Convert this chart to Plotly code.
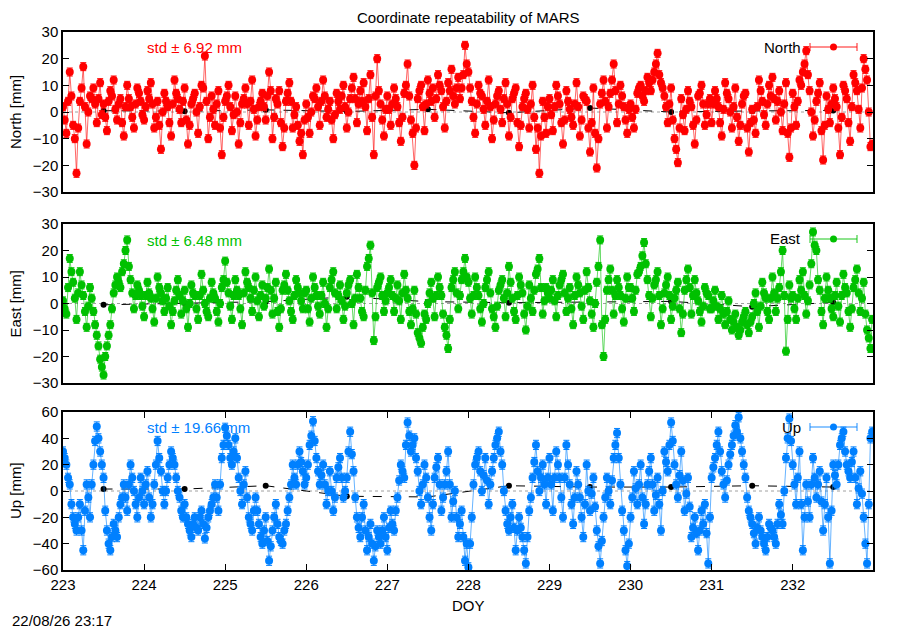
import numpy as np
import plotly.graph_objects as go

# half-hourly residuals [mm], one row per day of year 223 ... 232
north = [
    2, -3, -8, 4, 15, 6, -5, -10, -23, -6, 4, 9, 17, 2, -12, 0, 6, 5, 9, 3, -4, 5, 11, -1, 3, -2, -7, 4, 8, 6, 12, 1, -3, 3, 5, -4, -9, 2, 10, 5, 2, -2, -6, 3, 9, 7, 4, -1,
    -3, 2, 8, 5, 11, 3, -6, -2, 4, -5, -14, 0, 7, 4, 2, -4, -9, 3, 12, 7, 5, 1, -4, 4, 9, -3, -12, -5, 3, 5, 7, 0, -8, 2, 10, 9, 21, 4, -10, -2, 6, 1, -5, 3, 8, -6, -16, -2,
    4, 6, 10, 2, -7, -1, 6, 0, -12, -4, 3, 5, 9, 3, -5, 4, 12, 1, -9, -3, 2, 4, 7, 2, -3, 6, 15, 8, -10, -2, 5, 3, 8, -4, -13, -6, 4, 7, 11, 4, -6, -1, 2, -5, -11, -8, -16, -3,
    3, -2, -8, 0, 6, 5, 9, 2, -5, 4, 12, 6, -2, 1, 4, -3, -10, -1, 7, 4, 1, 6, 10, 2, -6, 0, 5, 9, 13, 5, -4, 3, 8, 4, 11, 2, -7, 5, 14, -2, -16, 6, 20, 8, 3, -3, -9, 1,
    6, 1, -5, 3, 9, 5, 2, -4, -11, -2, 7, 10, 18, 6, -3, -8, -20, -6, 5, 8, 10, 2, -7, 3, 12, 7, 4, 9, -2, 5, 14, 10, 8, 2, -6, 4, 11, 8, 16, 6, 3, 9, 13, 5, 9, 14, 25, 18,
    15, 9, 4, -2, -8, 3, 10, 7, 6, 1, -5, 4, 12, 2, -10, -3, 3, 6, 8, 1, -4, 5, 11, 3, -9, -2, 5, 7, 9, -4, -13, -5, 2, 5, 7, 1, -6, 3, 10, -2, -14, -6, -23, -9, 4, -2, -8, 2,
    5, -1, -7, 2, 10, 6, 3, -4, -12, -3, 8, 4, 1, -2, -5, 3, 11, 2, -9, -3, 6, 5, 4, -6, -15, -4, 9, -8, -21, -10, 3, 7, 12, 4, -6, 2, 7, 12, 18, 8, -4, 3, 10, 6, 2, -3, -8, 1,
    3, -2, -6, 1, 7, 9, 10, 6, 4, 8, 13, 11, 8, 12, 15, 18, 22, 14, 11, 9, 6, 2, -4, 3, 9, -3, -10, -14, -19, -6, 5, -1, -7, 1, 8, 4, 2, -5, -12, -3, 6, 7, 10, 3, -5, -1, 3, 5,
    -4, 3, 8, 5, 2, -4, -9, 1, 11, 7, 5, 0, -6, 2, 9, -2, -11, -5, 3, 6, 7, -6, -15, -4, 1, -3, -8, 2, 12, 8, 4, -1, -5, 3, 10, 6, 13, 5, -3, 4, 8, 0, -7, 3, 11, -8, -17, -6,
    7, 2, -5, 4, 12, 10, 15, 18, 23, 14, 8, 0, -9, -3, 4, 7, 11, -7, -18, -5, 6, 1, -4, 3, 9, 5, 2, -6, -16, -2, 10, 8, 5, -4, -11, 2, 14, 11, 8, 1, -6, 9, 20, 16, 12, 0, -13, -12,
]
east = [
    1, -2, -4, 6, 17, 12, 8, 2, -6, 4, 12, 7, 3, -3, -9, -1, 6, 2, -3, -8, -12, -16, -21, -24, -27, -20, -16, -12, -8, -2, 4, 7, 10, 8, 6, 12, 15, 20, 24, 14, 9, 4, -2, 3, 7, 5, 3, -1,
    -5, 3, 8, 4, 2, -2, -7, 2, 10, 6, 4, 1, -3, 2, 6, -1, -8, -3, 1, 5, 9, 3, -4, 1, 5, -2, -9, 0, 7, 4, 3, -2, -6, 3, 11, 5, 0, -3, -5, 2, 8, 4, 2, -3, -7, 0, 6, 9,
    16, 8, 4, -1, -6, 3, 9, 5, 3, -2, -8, 4, 12, 8, 6, 2, -3, 5, 10, 1, -5, 3, 7, -1, 2, 6, 13, 5, -4, 2, 8, -3, -9, -2, 5, 7, 11, 5, 1, -3, -6, 3, 9, 6, 4, 1, -2, 4,
    5, -2, -7, 2, 10, 6, 3, -1, -4, 3, 8, 0, -9, -2, 6, 9, 12, 4, -2, 3, 7, 1, -6, -1, 4, 7, 9, 0, -8, 2, 11, 6, 2, -3, -5, 5, 14, 17, 22, 4, -14, -5, 6, 8, 10, 3, -3, 1,
    4, 6, 9, 3, -3, 2, 7, 1, -6, 4, 11, 5, 2, -3, -8, -2, 5, -4, -11, -13, -15, -9, -4, -6, 0, 4, 8, 2, -5, 3, 10, 6, 3, -4, -9, -12, -17, -6, 6, 9, 12, 4, -2, 3, 9, 12, 17, 10,
    8, 2, -4, 3, 10, 6, 3, -2, -7, 0, 6, 9, 12, 4, -2, -5, -9, -1, 5, 7, 9, 2, -5, 4, 14, 8, 2, -3, -6, 3, 10, 7, 4, -4, -10, -1, 7, 2, -3, 5, 11, 13, 17, 6, -4, 1, 6, 4,
    2, 5, 9, 1, -5, 3, 7, 9, 11, 4, -3, 2, 6, -2, -8, 3, 10, 7, 4, -1, -6, 5, 12, 6, 1, -4, -9, 0, 8, 14, 24, -8, -20, -6, 5, 9, 13, 5, -4, 3, 9, 6, 3, -2, -7, 2, 10, 6,
    6, 2, -3, 5, 11, 12, 14, 18, 23, 15, 9, 3, -5, 2, 7, 9, 12, 3, -8, -2, 4, 7, 10, 3, -6, -1, 2, 5, 8, -2, -11, -4, 5, 9, 13, 6, -4, 3, 9, 4, 1, -3, -7, -1, 6, 4, 3, -2,
    -2, 1, 5, -1, -6, -2, 3, -4, -8, -3, 1, -6, -10, -7, -4, -9, -12, -10, -7, -5, -3, -8, -11, -7, -5, 0, 4, -3, -9, -1, 8, 4, 2, -3, -6, 2, 10, 4, -3, 2, 6, 12, 20, 3, -18, -6, 7, 2,
    3, -2, -6, 2, 9, 5, 12, 3, -4, 1, 7, 15, 27, 22, 20, 9, 5, -3, -8, 2, 10, 5, 2, -2, -5, 3, 8, -1, -7, 3, 11, 6, 4, -3, -9, -2, 6, 9, 13, 4, -3, 2, 8, -4, -10, -13, -17, -6,
]
up = [
    30, 25, 20, 10, 5, -10, -20, -25, -30, -20, -10, -30, -45, -15, 5, -5, -20, 5, 20, 38, 49, 40, 30, 20, 10, -15, -30, -40, -45, -35, -25, -30, -35, -20, -10, -5, 5, -5, -15, 5, 20, 10, 0, -10, -20, -5, 10, 0,
    -10, 5, 15, -5, -20, -10, 5, 20, 38, 25, 15, 0, -10, 0, 10, 20, 30, 25, 20, 10, 0, -5, -15, -20, -10, -20, -25, -30, -35, -25, -20, -28, -30, -20, -15, -25, -36, -28, -20, -15, -10, -5, 5, -5, -15, 5, 25, 35,
    48, 42, 35, 25, 20, 30, 40, 25, 10, 0, -10, 5, 15, -5, -20, -25, -30, -15, -5, -15, -25, -35, -40, -30, -20, -38, -53, -42, -30, -20, -10, -25, -35, -38, -40, -30, -25, -15, -5, 5, 20, 10, 5, 20, 30, 22, 15, 5,
    10, 20, 35, 42, 53, 38, 25, 15, 5, 12, 20, 5, -10, 0, 15, 0, -15, -5, 10, 18, 25, 10, -5, 0, 10, 30, 45, 28, 15, -5, -20, -28, -35, -20, -10, -30, -45, -35, -25, -40, -53, -42, -30, -35, -40, -30, -20, -35,
    -45, -28, -15, -25, -30, -15, -5, 8, 20, 15, 10, 35, 52, 42, 30, 35, 40, 25, 15, 0, -10, 5, 20, 10, -5, -20, -30, -10, 10, 18, 25, 5, -15, -5, 5, 15, 30, 5, -20, -8, 0, -20, -35, -25, -15, -35, -53, -40,
    -58, -40, -20, 5, 20, 25, 30, 15, 0, 12, 25, 8, -10, 5, 15, 25, 35, 40, 45, 30, 20, 0, -15, -25, -30, -20, -10, -28, -45, -30, -20, -28, -35, -45, -55, -35, -15, -5, 10, 22, 35, 15, 0, 10, 20, 5, -10, 10,
    25, 5, -15, 10, 30, 20, 10, -5, -20, 10, 35, 20, 5, -10, -25, -5, 15, 5, -5, -20, -35, -10, 20, 0, -15, -2, 10, -12, -30, -42, -55, -38, -20, -5, 10, 0, -10, 8, 25, 35, 44, 25, 5, -15, -30, -45, -57, -40,
    -20, -5, 15, 2, -10, 5, 20, -5, -25, -10, 5, 15, 25, 5, -15, -3, 10, -10, -30, 0, 30, 22, 15, 35, 52, 38, 20, 5, -5, 12, 30, 8, -15, -2, 10, -12, -35, -28, -20, -32, -45, -30, -15, -25, -10, -32, -55, -20,
    10, 18, 25, 35, 45, 30, 15, 5, -5, 8, 20, 28, 35, 42, 50, 45, 56, 40, 30, 20, 10, -5, -15, -20, -25, -32, -40, -28, -20, -30, -35, -40, -45, -35, -25, -28, -30, -35, -40, -25, -10, -18, -25, 0, 25, 40, 55, 38,
    20, 5, -10, 10, 30, -10, -45, -20, 5, -8, -20, 5, 25, 10, -5, 5, 15, -8, -30, -10, 10, -20, -55, -15, 20, 12, 5, 20, 35, 40, 45, 30, 20, 15, 10, 22, 30, 10, -10, 2, 15, -2, -20, -40, -55, -10, 40, 45,
]

# formal errors [mm]
north_err = 1.5
east_err = 1.5
up_err = 3.5

# daily solutions
day_mid = [223.5, 224.5, 225.5, 226.5, 227.5, 228.5, 229.5, 230.5, 231.5, 232.5]
north_day = [0.5, 0.3, 0.8, 0.2, 1.0, -0.3, 1.5, 0.0, 0.4, 0.6]
east_day = [-0.5, 0.2, 0.7, 2.5, 0.7, 0.3, 0.6, 0.8, -1.2, 0.4]
up_day = [1.5, 1.5, 4.0, -4.0, -4.5, 4.0, 3.0, 3.0, 4.0, 3.0]

std_text = ["std \u00b1 6.92 mm", "std \u00b1 6.48 mm", "std \u00b1 19.66 mm"]
names = ["North", "East", "Up"]
ylabels = ["North [mm]", "East [mm]", "Up [mm]"]
xticks = list(range(223, 233))

colors = ["#ff0000", "#00c000", "#0080ff"]
line_colors = ["rgba(255,0,0,0.6)", "rgba(0,192,0,0.6)", "rgba(0,128,255,0.6)"]

# pixel layout of the gnuplot page (the html body puts the figure 8px in)
OFF = 8
W, H = 900, 630
L, R, T, B = 63, 873, 32, 570
panels = [(32, 192), (224, 383), (412, 570)]
yranges = [[-30, 30], [-30, 30], [-60, 60]]


def px(x):
    return (x - L) / (R - L)


def py(y):
    return (B - y) / (B - T)


fig = go.Figure()
series = [north, east, up]
errs = [north_err, east_err, up_err]
daily = [north_day, east_day, up_day]

for i in range(3):
    xa = "x" if i == 0 else "x%d" % (i + 1)
    ya = "y" if i == 0 else "y%d" % (i + 1)
    doy = 223 + np.arange(len(series[i])) / 48.0
    fig.add_trace(go.Scatter(
        x=[223, 233], y=[0, 0], mode="lines", xaxis=xa, yaxis=ya,
        line=dict(color="#a0a0a0", width=1, dash="dot"), showlegend=False, hoverinfo="skip"))
    fig.add_trace(go.Scatter(
        x=day_mid, y=daily[i], mode="lines+markers", xaxis=xa, yaxis=ya,
        line=dict(color="black", width=1, dash="dash"),
        marker=dict(color="black", size=6), showlegend=False))
    fig.add_trace(go.Scatter(
        x=doy, y=series[i], mode="lines+markers", xaxis=xa, yaxis=ya, name=names[i],
        line=dict(color=line_colors[i], width=1),
        marker=dict(color=colors[i], size=8),
        error_y=dict(type="constant", value=errs[i], color=colors[i], thickness=1, width=3),
        showlegend=False))

layout = dict(
    width=W - OFF, height=H - OFF,
    margin=dict(l=L - OFF, r=W - R, t=T - OFF, b=H - B, pad=0),
    paper_bgcolor="white", plot_bgcolor="white",
    font=dict(family="Liberation Sans, Arial, sans-serif", size=15, color="black"),
    showlegend=False,
)

annotations = []
shapes = []
for i, (top, bot) in enumerate(panels):
    sfx = "" if i == 0 else str(i + 1)
    is_bottom = i == 2
    layout["xaxis" + sfx] = dict(
        domain=[0, 1], range=[223, 232.99], anchor="y" + sfx,
        tickvals=xticks, showticklabels=is_bottom,
        ticks="inside" if is_bottom else "", ticklen=6, tickcolor="black",
        showline=True, linecolor="black", linewidth=1.5,
        mirror="allticks" if is_bottom else True,
        showgrid=False, zeroline=False,
    )
    if i > 0:
        layout["xaxis" + sfx]["matches"] = "x"
    lo, hi = yranges[i]
    step = 10 if i < 2 else 20
    layout["yaxis" + sfx] = dict(
        domain=[py(bot), py(top)], range=[lo, hi], anchor="x" + sfx,
        tickvals=list(range(lo, hi + 1, step)),
        ticks="inside", ticklen=6, tickcolor="black",
        showline=True, linecolor="black", linewidth=1.5, mirror="allticks",
        showgrid=False, zeroline=False,
    )
    annotations.append(dict(
        text=ylabels[i], xref="paper", yref="paper", x=px(15), y=py((top + bot) / 2),
        textangle=-90, showarrow=False, xanchor="center", yanchor="middle"))
    annotations.append(dict(
        text=std_text[i], xref="paper", yref="paper", x=px(145), y=py(top + 16),
        showarrow=False, xanchor="left", yanchor="middle", font=dict(color=colors[i])))
    ly = top + 15
    annotations.append(dict(
        text=names[i], xref="paper", yref="paper", x=px(803), y=py(ly),
        showarrow=False, xanchor="right", yanchor="middle"))
    shapes.append(dict(type="line", xref="paper", yref="paper",
                       x0=px(810), x1=px(857), y0=py(ly), y1=py(ly),
                       line=dict(color=line_colors[i], width=1.5)))
    for cx in (810, 857):
        shapes.append(dict(type="line", xref="paper", yref="paper",
                           x0=px(cx), x1=px(cx), y0=py(ly - 4), y1=py(ly + 4),
                           line=dict(color=line_colors[i], width=1.5)))
    shapes.append(dict(type="circle", xref="paper", yref="paper",
                       x0=px(830), x1=px(837), y0=py(ly - 3.5), y1=py(ly + 3.5),
                       fillcolor=colors[i], line=dict(color=colors[i], width=0)))

annotations.append(dict(
    text="Coordinate repeatability of MARS", xref="paper", yref="paper",
    x=px(468), y=py(17), showarrow=False, xanchor="center", yanchor="middle"))
annotations.append(dict(
    text="DOY", xref="paper", yref="paper", x=px(468), y=py(605),
    showarrow=False, xanchor="center", yanchor="middle"))
annotations.append(dict(
    text="22/08/26 23:17", xref="paper", yref="paper", x=px(10), y=py(620),
    showarrow=False, xanchor="left", yanchor="middle"))

layout["annotations"] = annotations
layout["shapes"] = shapes
fig.update_layout(**layout)

fig.write_html("out.html")
